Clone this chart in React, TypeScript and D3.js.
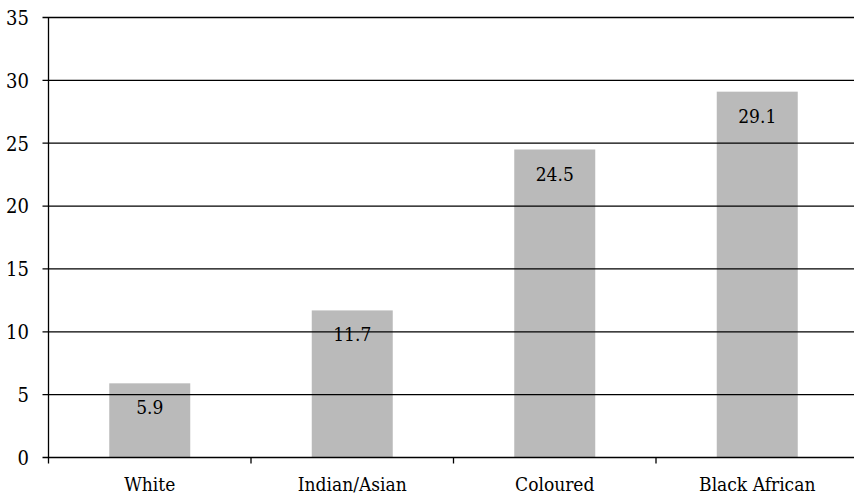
import React from "react";
import * as d3 from "d3";

const categories = ["White", "Indian/Asian", "Coloured", "Black African"];
const values = [5.9, 11.7, 24.5, 29.1];
const yTicks = [0, 5, 10, 15, 20, 25, 30, 35];

const W = 854;
const H = 496;
const left = 48.5;
const right = 858.5;
const top = 17.5;
const bottom = 457.5;
const FONT = "'DejaVu Serif Condensed', 'DejaVu Serif', serif";

export default function App() {
  const y = d3.scaleLinear().domain([0, 35]).range([bottom, top]);
  const slot = d3.scaleBand<string>().domain(categories).range([left, right]).padding(0);
  const band = d3
    .scaleBand<string>()
    .domain(categories)
    .range([left, right])
    .paddingInner(0.6)
    .paddingOuter(0.3);

  const textStyle = { fontStretch: "condensed" as const };

  return (
    <svg
      width={W}
      height={H}
      style={{ position: "absolute", left: 0, top: 0, background: "#fff" }}
    >
      {categories.map((c, i) => (
        <rect
          key={c}
          x={band(c)}
          y={y(values[i])}
          width={band.bandwidth()}
          height={y(0) - y(values[i])}
          fill="#bababa"
        />
      ))}
      {yTicks.map((t) => (
        <g key={t}>
          <line
            x1={42.5}
            x2={right}
            y1={y(t)}
            y2={y(t)}
            stroke="#000"
            strokeWidth={1.3}
          />
          <text
            x={29}
            y={y(t)}
            dy="0.37em"
            textAnchor="end"
            fontFamily={FONT}
            fontSize={20}
            style={textStyle}
            fill="#000"
          >
            {t}
          </text>
        </g>
      ))}
      <line x1={left} x2={left} y1={top} y2={bottom + 6} stroke="#000" strokeWidth={1.3} />
      {categories.map((c) => (
        <line
          key={c}
          x1={(slot(c) as number) + slot.bandwidth()}
          x2={(slot(c) as number) + slot.bandwidth()}
          y1={bottom}
          y2={bottom + 6}
          stroke="#000"
          strokeWidth={1.3}
        />
      ))}
      {categories.map((c, i) => (
        <text
          key={c}
          x={(band(c) as number) + band.bandwidth() / 2}
          y={y(values[i]) + 31}
          textAnchor="middle"
          fontFamily={FONT}
          fontSize={19}
          style={textStyle}
          fill="#000"
        >
          {values[i].toFixed(1)}
        </text>
      ))}
      {categories.map((c) => (
        <text
          key={c}
          x={(slot(c) as number) + slot.bandwidth() / 2}
          y={491}
          textAnchor="middle"
          fontFamily={FONT}
          fontSize={19}
          style={textStyle}
          fill="#000"
        >
          {c}
        </text>
      ))}
    </svg>
  );
}
